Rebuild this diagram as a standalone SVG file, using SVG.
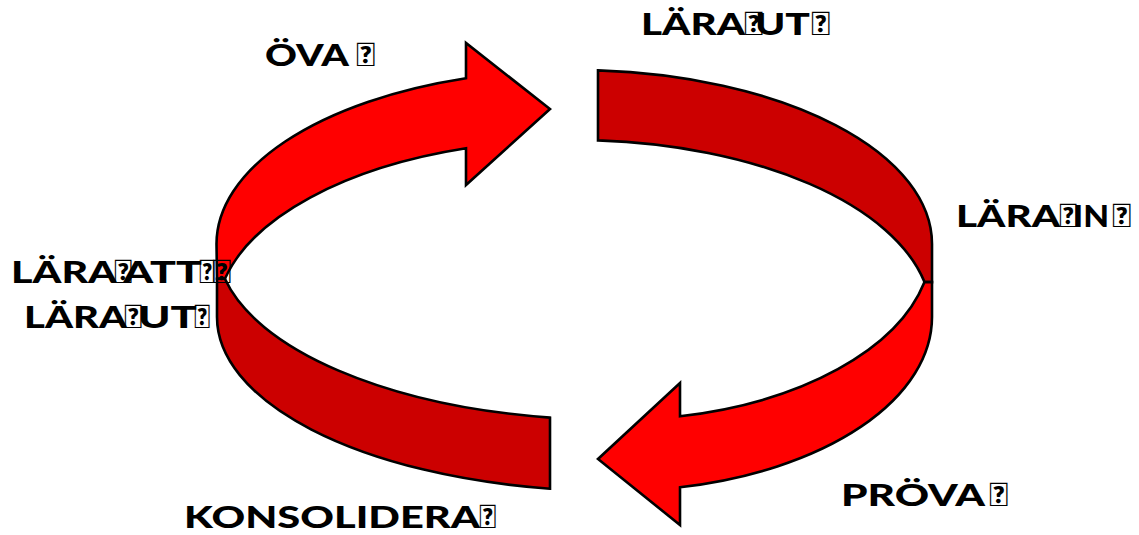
<svg xmlns="http://www.w3.org/2000/svg" width="1139" height="535" viewBox="0 0 1139 535">
<style>
.bright{fill:#FF0000;stroke:#000;stroke-width:2.6;stroke-linejoin:miter}
.dark{fill:#CC0000;stroke:#000;stroke-width:2.6;stroke-linejoin:miter}
.lbl{font-family:Lato,"DejaVu Sans",sans-serif;font-weight:900;font-size:30px;fill:#000}
.tofu{font-size:32px;font-weight:bold}
</style>
<rect width="1139" height="535" fill="#fff"/>
<g id="ring">
  <path id="arrow-top-left" class="bright" d="M217,278.8 L216.5,244 A357.5 174 0 0 1 466,78.2 L466,43 L550,109 L466,185 L466,148.3 A357.5 177 0 0 0 224.9,278.8 Z"/>
  <path id="band-top-right" class="dark" d="M598,70.4 A357.5 174 0 0 1 932,244 L932,282.1 L924.5,282.1 A357.5 177 0 0 0 598,140.4 Z"/>
  <path id="arrow-bottom-right" class="bright" d="M932,282.1 L932,317 A317 174 0 0 1 680,487.3 L680,525 L598,459 L680,383 L680,416.3 A317 176 0 0 0 924.5,282.1 Z"/>
  <path id="band-bottom-left" class="dark" d="M550,417.6 A398 176 0 0 1 224.9,278.8 L217,278.8 L217,317 A398 174 0 0 0 550,488.7 Z"/>
</g>
<g id="label-ova"><text class="lbl" y="66"><tspan x="265" textLength="84" lengthAdjust="spacingAndGlyphs">ÖVA</tspan><tspan class="tofu" x="356" textLength="19" lengthAdjust="spacingAndGlyphs">&#xE000;</tspan></text></g>
<g id="label-lara-ut-top"><text class="lbl" y="35"><tspan x="641" textLength="104" lengthAdjust="spacingAndGlyphs">LÄRA</tspan><tspan class="tofu" x="744" textLength="19" lengthAdjust="spacingAndGlyphs">&#xE000;</tspan><tspan x="755" textLength="55" lengthAdjust="spacingAndGlyphs">UT</tspan><tspan class="tofu" x="811" textLength="19" lengthAdjust="spacingAndGlyphs">&#xE000;</tspan></text></g>
<g id="label-lara-in"><text class="lbl" y="227"><tspan x="956" textLength="104" lengthAdjust="spacingAndGlyphs">LÄRA</tspan><tspan class="tofu" x="1059" textLength="18" lengthAdjust="spacingAndGlyphs">&#xE000;</tspan><tspan x="1073" textLength="36" lengthAdjust="spacingAndGlyphs">IN</tspan><tspan class="tofu" x="1112" textLength="19" lengthAdjust="spacingAndGlyphs">&#xE000;</tspan></text></g>
<g id="label-lara-att"><text class="lbl" y="283"><tspan x="11" textLength="106" lengthAdjust="spacingAndGlyphs">LÄRA</tspan><tspan class="tofu" x="114" textLength="18" lengthAdjust="spacingAndGlyphs">&#xE000;</tspan><tspan x="123" textLength="79" lengthAdjust="spacingAndGlyphs">ATT</tspan><tspan class="tofu" x="199" textLength="16" lengthAdjust="spacingAndGlyphs">&#xE000;</tspan><tspan class="tofu" x="212" textLength="19" lengthAdjust="spacingAndGlyphs">&#xE000;</tspan></text>
<text class="lbl" y="328"><tspan x="24" textLength="103" lengthAdjust="spacingAndGlyphs">LÄRA</tspan><tspan class="tofu" x="124" textLength="18" lengthAdjust="spacingAndGlyphs">&#xE000;</tspan><tspan x="138" textLength="59" lengthAdjust="spacingAndGlyphs">UT</tspan><tspan class="tofu" x="194" textLength="16" lengthAdjust="spacingAndGlyphs">&#xE000;</tspan></text></g>
<g id="label-prova"><text class="lbl" y="506"><tspan x="841" textLength="144" lengthAdjust="spacingAndGlyphs">PRÖVA</tspan><tspan class="tofu" x="989" textLength="19" lengthAdjust="spacingAndGlyphs">&#xE000;</tspan></text></g>
<g id="label-konsolidera"><text class="lbl" y="528"><tspan x="184" textLength="296" lengthAdjust="spacingAndGlyphs">KONSOLIDERA</tspan><tspan class="tofu" x="479" textLength="17" lengthAdjust="spacingAndGlyphs">&#xE000;</tspan></text></g>
</svg>
